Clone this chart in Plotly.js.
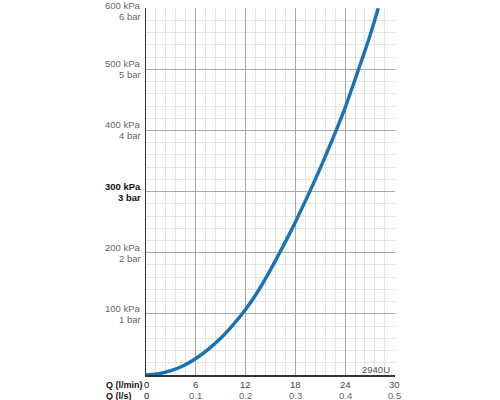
<!DOCTYPE html>
<html>
<head>
<meta charset="utf-8">
<script src="https://cdn.plot.ly/plotly-3.0.1.min.js"></script>
<style>html,body{margin:0;padding:0;background:#fff;}#chart{width:500px;height:400px;}</style>
</head>
<body>
<div id="chart"></div>
<script>
// Flow (l/min) and pressure loss (kPa)
var flowLpm = [0, 1.5, 3, 4.5, 6, 7.5, 9, 10.5, 12, 13.5, 15, 16.5, 18, 19.5, 21, 22.5, 24, 25.5, 27, 28];
var pressureKpa = [0, 2, 7, 15, 27, 42, 60, 82, 107, 137, 172, 210, 250, 293, 338, 386, 437, 495, 555, 600];

// Axis ticks
var yTickVals = [100, 200, 300, 400, 500, 600];
var kpaLabels = ["100 kPa", "200 kPa", "300 kPa", "400 kPa", "500 kPa", "600 kPa"];
var barLabels = ["1 bar", "2 bar", "3 bar", "4 bar", "5 bar", "6 bar"];
var xTickVals = [0, 6, 12, 18, 24, 30];
var lpmLabels = ["0", "6", "12", "18", "24", "30"];
var lpsLabels = ["0", "0.1", "0.2", "0.3", "0.4", "0.5"];
var rowTitles = ["Q (l/min)", "Q (l/s)"];
var codeLabel = "2940U";

var FONT = "Liberation Sans, Arial, sans-serif";
var annotations = [];

// y tick labels: two lines (kPa above, bar below the grid line)
yTickVals.forEach(function (v, i) {
  var bold = (v === 300);
  var col = bold ? "#111" : "#666";
  var top = (v === 600);
  annotations.push({
    text: bold ? "<b>" + kpaLabels[i] + "</b>" : kpaLabels[i],
    xref: "paper", yref: "y", x: 0, y: v, xanchor: "right", yanchor: "middle",
    xshift: -4, yshift: top ? 3 : 5.5, showarrow: false, borderpad: 0,
    font: { family: FONT, size: 9.5, color: col }
  });
  annotations.push({
    text: bold ? "<b>" + barLabels[i] + "</b>" : barLabels[i],
    xref: "paper", yref: "y", x: 0, y: v, xanchor: "right", yanchor: "middle",
    xshift: -4, yshift: top ? -8 : -5.5, showarrow: false, borderpad: 0,
    font: { family: FONT, size: 9.5, color: col }
  });
});

// x tick labels: l/min row and l/s row
xTickVals.forEach(function (v, i) {
  var first = (i === 0);
  annotations.push({
    text: lpmLabels[i], xref: "x", yref: "paper", x: v, y: 0,
    xanchor: "center", yanchor: "middle", yshift: -9.5, showarrow: false, borderpad: 0,
    font: { family: FONT, size: 9.5, color: first ? "#111" : "#444" }
  });
  annotations.push({
    text: lpsLabels[i], xref: "x", yref: "paper", x: v, y: 0,
    xanchor: "center", yanchor: "middle", yshift: -20.5, showarrow: false, borderpad: 0,
    font: { family: FONT, size: 9.5, color: first ? "#111" : "#666" }
  });
});

// row titles
annotations.push({
  text: "<b>" + rowTitles[0] + "</b>", xref: "paper", yref: "paper", x: 0, y: 0,
  xanchor: "left", yanchor: "middle", xshift: -41.5, yshift: -9.5, showarrow: false, borderpad: 0,
  font: { family: FONT, size: 9, color: "#111" }
});
annotations.push({
  text: "<b>" + rowTitles[1] + "</b>", xref: "paper", yref: "paper", x: 0, y: 0,
  xanchor: "left", yanchor: "middle", xshift: -41.5, yshift: -20.5, showarrow: false, borderpad: 0,
  font: { family: FONT, size: 9, color: "#111" }
});

// drawing code
annotations.push({
  text: codeLabel, xref: "x", yref: "y", x: 30, y: 0, xanchor: "right", yanchor: "middle",
  xshift: -3, yshift: 6, showarrow: false, font: { family: FONT, size: 9.5, color: "#555" }
});

var trace = {
  x: flowLpm,
  y: pressureKpa,
  type: "scatter",
  mode: "lines",
  line: { color: "#1872b8", width: 3.4, shape: "spline", smoothing: 1 },
  hoverinfo: "skip"
};

var layout = {
  width: 500,
  height: 400,
  margin: { l: 146, r: 104.5, t: 8, b: 25 },
  paper_bgcolor: "#ffffff",
  plot_bgcolor: "#ffffff",
  font: { family: FONT, size: 10, color: "#555" },
  showlegend: false,
  xaxis: {
    range: [0, 30.02],
    tickmode: "array",
    tickvals: xTickVals,
    showticklabels: false,
    ticks: "",
    showgrid: true,
    gridcolor: "#a8a8a8",
    gridwidth: 1,
    zeroline: false,
    showline: true,
    linecolor: "#333",
    linewidth: 1.5,
    minor: { dtick: 1.2, showgrid: true, gridcolor: "#e3e3e3", gridwidth: 1 },
    fixedrange: true
  },
  yaxis: {
    range: [0, 600.3],
    tickmode: "array",
    tickvals: yTickVals,
    showticklabels: false,
    ticks: "",
    showgrid: true,
    gridcolor: "#a8a8a8",
    gridwidth: 1,
    zeroline: false,
    showline: true,
    linecolor: "#333",
    linewidth: 1.5,
    minor: { dtick: 20, showgrid: true, gridcolor: "#e3e3e3", gridwidth: 1 },
    fixedrange: true
  },
  annotations: annotations
};

Plotly.newPlot("chart", [trace], layout, { displayModeBar: false, staticPlot: true });
</script>
</body>
</html>
